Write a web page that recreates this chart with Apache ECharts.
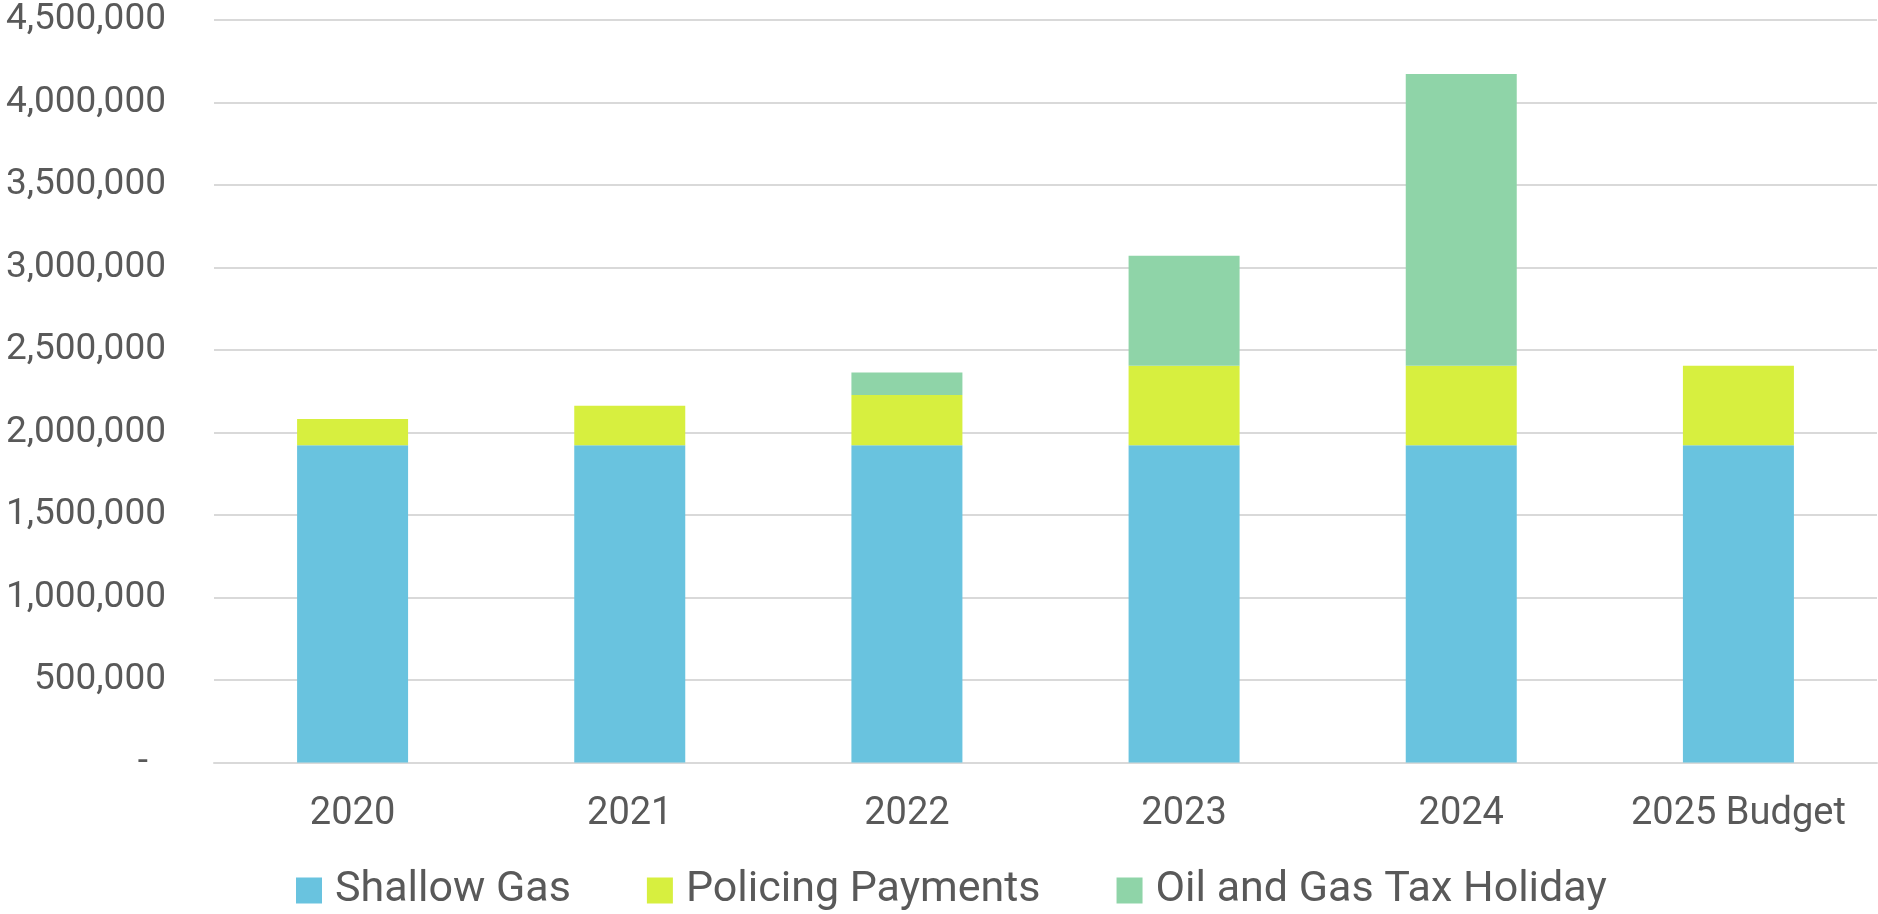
<!DOCTYPE html>
<html>
<head>
<meta charset="utf-8">
<script src="https://cdn.jsdelivr.net/npm/echarts@6/dist/echarts.min.js"></script>
<style>
html,body{margin:0;padding:0;background:#fff;}
#chart{width:1878px;height:914px;}
</style>
</head>
<body>
<div id="chart"></div>
<script>
const categories = ['2020', '2021', '2022', '2023', '2024', '2025 Budget'];
const shallowGas = [1922000, 1922000, 1922000, 1922000, 1922000, 1922000];
const policingPayments = [160000, 240000, 305000, 482000, 483000, 482000];
const oilGasTaxHoliday = [0, 0, 136000, 667000, 1768000, 0];
const yTicks = [0, 500000, 1000000, 1500000, 2000000, 2500000, 3000000, 3500000, 4000000, 4500000];

const chart = echarts.init(document.getElementById('chart'));
const txt = '#595959';
const font = 'Roboto';

function fmt(v) {
  if (v === 0) return '{z|-}';
  return v.toLocaleString('en-US');
}

chart.setOption({
  animation: false,
  backgroundColor: '#ffffff',
  grid: { left: 214, right: 1, top: 20, bottom: 151.5, containLabel: false },
  xAxis: {
    type: 'category',
    data: categories,
    axisLine: { show: true, lineStyle: { color: '#d9d9d9', width: 2 } },
    axisTick: { show: false },
    axisLabel: { color: txt, fontFamily: font, fontSize: 38, margin: 33, interval: 0, hideOverlap: false }
  },
  yAxis: {
    type: 'value',
    min: yTicks[0],
    max: yTicks[yTicks.length - 1],
    interval: yTicks[1] - yTicks[0],
    axisLine: { show: false },
    axisTick: { show: false },
    splitLine: { lineStyle: { color: '#d9d9d9', width: 2 } },
    axisLabel: {
      color: txt, fontFamily: font, fontSize: 37, margin: 48,
      formatter: fmt,
      rich: { z: { color: txt, fontFamily: font, fontSize: 37, padding: [0, 18, 0, 0] } }
    }
  },
  legend: {
    left: 296,
    top: 869,
    padding: 0,
    itemWidth: 26,
    itemHeight: 26,
    itemGap: 76,
    icon: 'rect',
    textStyle: { color: txt, fontFamily: font, fontSize: 43, lineHeight: 43, padding: [0, 0, 0, 8] },
    data: ['Shallow Gas', 'Policing Payments', 'Oil and Gas Tax Holiday']
  },
  series: [
    { name: 'Shallow Gas', type: 'bar', stack: 'a', barWidth: 111, data: shallowGas, itemStyle: { color: '#69c3df' } },
    { name: 'Policing Payments', type: 'bar', stack: 'a', barWidth: 111, data: policingPayments, itemStyle: { color: '#d7ef3f' } },
    { name: 'Oil and Gas Tax Holiday', type: 'bar', stack: 'a', barWidth: 111, data: oilGasTaxHoliday, itemStyle: { color: '#8fd4a8' } }
  ]
});
</script>
</body>
</html>
